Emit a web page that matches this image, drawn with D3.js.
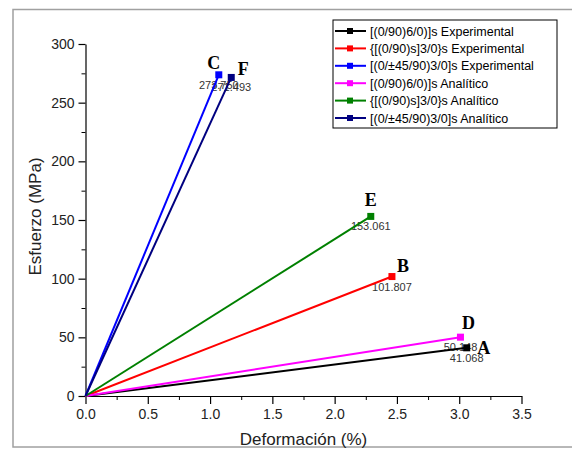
<!DOCTYPE html>
<html>
<head>
<meta charset="utf-8">
<script src="https://cdn.jsdelivr.net/npm/d3@7"></script>
<style>
  body { margin: 0; background: #fff; }
  svg { display: block; font-family: "Liberation Sans", Arial, sans-serif; }
</style>
</head>
<body>
<div id="chart"></div>
<script>
// series, in drawing order
const seriesNames = [
  "[(0/90)6/0)]s Experimental",
  "{[(0/90)s]3/0}s Experimental",
  "[(0/\u00b145/90)3/0]s Experimental",
  "[(0/90)6/0)]s Anal\u00edtico",
  "{[(0/90)s]3/0}s Anal\u00edtico",
  "[(0/\u00b145/90)3/0]s Anal\u00edtico"
];
const seriesColors = ["#000000", "#ff0000", "#0000ff", "#ff00ff", "#008000", "#000080"];
const strainEnd = [3.06, 2.46, 1.07, 3.01, 2.29, 1.17];      // Deformación (%)
const stressEnd = [41.068, 101.807, 273.750, 50.148, 153.061, 271.493]; // Esfuerzo (MPa)
const pointLetters = ["A", "B", "C", "D", "E", "F"];
const xTicks = [0, 0.5, 1, 1.5, 2, 2.5, 3, 3.5];
const yTicks = [0, 50, 100, 150, 200, 250, 300];

// where each letter sits relative to its point
const letterOffsets = [[17, 6], [11, -5], [-5, -6], [8, -8], [0, -10], [12, -2]];

const W = 572, H = 450;
const margin = { top: 44, left: 85.5 };
const width = 436, height = 352;

const svg = d3.select("#chart").append("svg")
  .attr("width", W)
  .attr("height", H);

// outer frame
svg.append("rect")
  .attr("x", 13).attr("y", 9.5)
  .attr("width", 580).attr("height", 437.5)
  .attr("fill", "none")
  .attr("stroke", "#a0a0a0")
  .attr("stroke-width", 1.5);

const g = svg.append("g")
  .attr("transform", "translate(" + margin.left + "," + margin.top + ")");

const x = d3.scaleLinear().domain([0, 3.5]).range([0, width]);
const y = d3.scaleLinear().domain([0, 300]).range([height, 0]);

// minor ticks
g.append("g")
  .attr("transform", "translate(0," + height + ")")
  .call(d3.axisBottom(x).tickValues(d3.range(0.25, 3.5, 0.5)).tickSize(4).tickFormat(""))
  .call(a => a.select(".domain").remove());
g.append("g")
  .call(d3.axisLeft(y).tickValues(d3.range(25, 300, 50)).tickSize(4).tickFormat(""))
  .call(a => a.select(".domain").remove());

// major axes
const xAxis = g.append("g")
  .attr("transform", "translate(0," + height + ")")
  .call(d3.axisBottom(x).tickValues(xTicks).tickSize(8).tickSizeOuter(0).tickPadding(5).tickFormat(d3.format(".1f")));
const yAxis = g.append("g")
  .call(d3.axisLeft(y).tickValues(yTicks).tickSize(7).tickSizeOuter(0).tickPadding(4));

[xAxis, yAxis].forEach(a => {
  a.selectAll("text").attr("font-size", 14).attr("fill", "#222").attr("font-family", "Liberation Sans, Arial, sans-serif");
  a.selectAll("path, line").attr("stroke", "#000").attr("stroke-width", 1.2);
});

// axis titles
svg.append("text")
  .attr("x", margin.left + width / 2)
  .attr("y", 445)
  .attr("text-anchor", "middle")
  .attr("font-size", 17)
  .attr("fill", "#222")
  .text("Deformación (%)");
svg.append("text")
  .attr("transform", "translate(41," + (margin.top + height * 0.49) + ") rotate(-90)")
  .attr("text-anchor", "middle")
  .attr("font-size", 17)
  .attr("fill", "#222")
  .text("Esfuerzo (MPa)");

// value labels (beneath lines)
g.selectAll(".vlabel")
  .data(d3.range(seriesNames.length))
  .enter().append("text")
  .attr("class", "vlabel")
  .attr("x", i => x(strainEnd[i]))
  .attr("y", i => y(stressEnd[i]) + 14)
  .attr("text-anchor", "middle")
  .attr("font-size", 11)
  .attr("fill", "#333")
  .text(i => d3.format(".3f")(stressEnd[i]));

// lines from origin
const line = d3.line().x(d => x(d[0])).y(d => y(d[1]));
seriesNames.forEach((name, i) => {
  g.append("path")
    .datum([[0, 0], [strainEnd[i], stressEnd[i]]])
    .attr("d", line)
    .attr("fill", "none")
    .attr("stroke", seriesColors[i])
    .attr("stroke-width", 2);
});

// end markers
g.selectAll(".marker")
  .data(d3.range(seriesNames.length))
  .enter().append("rect")
  .attr("class", "marker")
  .attr("x", i => x(strainEnd[i]) - 3.5)
  .attr("y", i => y(stressEnd[i]) - 3.5)
  .attr("width", 7).attr("height", 7)
  .attr("fill", i => seriesColors[i]);

// letters
g.selectAll(".letter")
  .data(d3.range(seriesNames.length))
  .enter().append("text")
  .attr("class", "letter")
  .attr("x", i => x(strainEnd[i]) + letterOffsets[i][0])
  .attr("y", i => y(stressEnd[i]) + letterOffsets[i][1])
  .attr("text-anchor", "middle")
  .attr("font-family", "Liberation Serif, Times New Roman, serif")
  .attr("font-weight", "bold")
  .attr("font-size", 18)
  .attr("fill", "#000")
  .text(i => pointLetters[i]);

// legend
const legend = svg.append("g").attr("transform", "translate(333,20)");
legend.append("rect")
  .attr("width", 224).attr("height", 108)
  .attr("fill", "#fff")
  .attr("stroke", "#000")
  .attr("stroke-width", 1);
const rows = legend.selectAll(".row")
  .data(seriesNames)
  .enter().append("g")
  .attr("transform", (d, i) => "translate(0," + (11 + i * 17.4) + ")");
rows.append("line")
  .attr("x1", 2).attr("x2", 33)
  .attr("stroke", (d, i) => seriesColors[i])
  .attr("stroke-width", 2);
rows.append("rect")
  .attr("x", 14).attr("y", -3).attr("width", 6).attr("height", 6)
  .attr("fill", (d, i) => seriesColors[i]);
rows.append("text")
  .attr("x", 37).attr("y", 4.5)
  .attr("font-size", 12.5)
  .attr("fill", "#000")
  .text(d => d);
</script>
</body>
</html>
